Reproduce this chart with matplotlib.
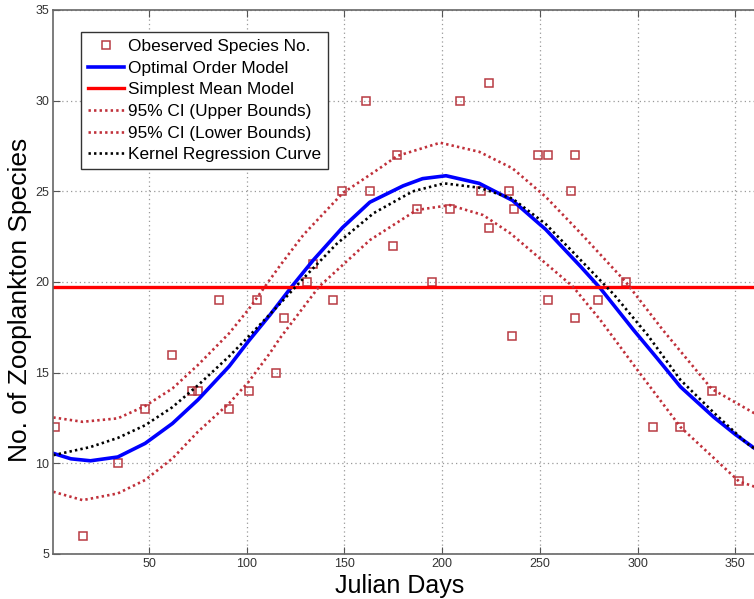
import matplotlib.pyplot as plt

# observed species counts (Julian day, count)
obs_days = [2, 16, 34, 48, 62, 72, 75, 86, 91, 101, 105, 115, 119, 131, 134, 144,
            149, 161, 163, 175, 177, 187, 195, 204, 209, 220, 224, 224, 234, 237,
            236, 249, 254, 254, 266, 268, 268, 280, 294, 308, 322, 338, 352]
obs_species = [12, 6, 10, 13, 16, 14, 14, 19, 13, 14, 19, 15, 18, 20, 21, 19,
               25, 30, 25, 22, 27, 24, 20, 24, 30, 25, 23, 31, 25, 24,
               17, 27, 27, 19, 25, 27, 18, 19, 20, 12, 12, 14, 9]

mean_level = 19.7

# optimal order model
opt_days = [1, 10, 20, 34, 48, 62, 75, 91, 101, 112, 123, 134, 149, 163, 180, 190,
            202, 219, 236, 253, 271, 281, 298, 310, 322, 339, 350, 360]
opt_vals = [10.55, 10.25, 10.14, 10.35, 11.1, 12.2, 13.5, 15.35, 16.75, 18.2, 19.74,
            21.2, 23.0, 24.4, 25.3, 25.7, 25.86, 25.44, 24.5, 22.9, 20.84, 19.65,
            17.35, 15.8, 14.22, 12.55, 11.6, 10.82]

# 95% CI bounds
up_days = [1, 16, 34, 48, 62, 75, 91, 101, 117, 129, 149, 168, 177, 199, 219, 236,
           253, 271, 294, 313, 338, 360]
up_vals = [12.53, 12.29, 12.48, 13.16, 14.13, 15.42, 17.17, 18.5, 20.9, 22.6, 24.89,
           26.27, 26.95, 27.68, 27.18, 26.27, 24.7, 22.68, 20.0, 17.35, 14.1, 12.75]
low_days = [1, 16, 34, 48, 62, 75, 91, 101, 112, 117, 137, 163, 187, 204, 221, 235,
            253, 267, 281, 300, 322, 352, 360]
low_vals = [8.43, 7.97, 8.34, 9.08, 10.27, 11.74, 13.31, 14.5, 16.1, 16.9, 19.74,
            22.31, 23.97, 24.24, 23.69, 22.68, 21.03, 19.74, 17.9, 15.14, 12.0, 9.0, 8.71]

# kernel regression
ker_days = [1, 20, 34, 48, 62, 75, 91, 101, 117, 129, 146, 165, 185, 201, 219, 236,
            253, 271, 288, 305, 322, 339, 356, 360]
ker_vals = [10.45, 10.9, 11.4, 12.1, 13.1, 14.3, 15.9, 17.0, 18.8, 20.2, 22.1,
            23.8, 25.0, 25.44, 25.2, 24.6, 23.2, 21.2, 19.3, 17.1, 14.6, 12.8,
            11.1, 10.8]

ci_color = '#c0303a'
dots = (0, (0.9, 1.2))

fig = plt.figure(figsize=(7.54, 5.99), dpi=100)
ax = fig.add_axes([53.3 / 754, 1 - 554 / 599, 711.2 / 754, 544 / 599])

ax.plot(obs_days, obs_species, 's', ms=6, mfc='none', mec='#b83a42', mew=1.1,
        label='Obeserved Species No.')
ax.plot(opt_days, opt_vals, color='#0000ff', lw=2.6, label='Optimal Order Model')
ax.axhline(mean_level, color='#ff0000', lw=2.4, label='Simplest Mean Model')
ax.plot(up_days, up_vals, color=ci_color, lw=1.9, ls=dots, label='95% CI (Upper Bounds)')
ax.plot(low_days, low_vals, color=ci_color, lw=1.9, ls=dots, label='95% CI (Lower Bounds)')
ax.plot(ker_days, ker_vals, color='black', lw=1.9, ls=dots, label='Kernel Regression Curve')

ax.set_xlim(1, 365)
ax.set_ylim(5, 35)
ax.set_xticks(range(50, 351, 50))
ax.set_yticks(range(5, 36, 5))
ax.grid(True, color='#999999', ls=(0, (1, 2.5)), lw=0.9)
ax.tick_params(direction='in', length=5, top=True, right=True, labelsize=9,
               labelcolor='#333333', color='#555555', pad=3)
for lab in ax.get_xticklabels() + ax.get_yticklabels():
    lab.set_family(['Liberation Sans Narrow', 'Liberation Sans'])
for s in ax.spines.values():
    s.set_color('#666666')
    s.set_linewidth(1.2)

ax.set_xlabel('Julian Days', fontsize=18, family='Liberation Sans')
ax.xaxis.set_label_coords(0.4875, -0.036)
ax.set_ylabel('No. of Zooplankton Species', fontsize=19, family='Liberation Sans')
ax.yaxis.set_label_coords(-0.03, 0.467)

leg = ax.legend(loc='upper left', bbox_to_anchor=(0.0385, 0.959), borderaxespad=0,
                fancybox=False, framealpha=1, edgecolor='#333333',
                prop={'family': 'Liberation Sans', 'size': 12.4},
                handlelength=2.1, handletextpad=0.25, labelspacing=0.38,
                borderpad=0.4, numpoints=1)
leg.get_frame().set_linewidth(1.0)

fig.savefig('out.png', dpi=100)
